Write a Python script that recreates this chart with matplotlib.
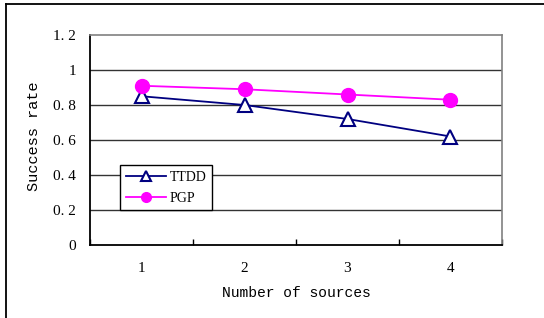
import matplotlib
matplotlib.use("Agg")
import matplotlib.pyplot as plt
from matplotlib.lines import Line2D

categories = ["1", "2", "3", "4"]
ttdd = [0.85, 0.80, 0.72, 0.62]
pgp = [0.91, 0.89, 0.86, 0.83]
yticks = [0, 0.2, 0.4, 0.6, 0.8, 1.0, 1.2]
ytick_labels = ["0", "0. 2", "0. 4", "0. 6", "0. 8", "1", "1. 2"]

W, H = 544, 318
fig = plt.figure(figsize=(W / 100, H / 100), dpi=100)
mono = "Liberation Mono"
serif = "Liberation Serif"
fs = 10.5

# Outer frame (top and left lines only visible)
fig.add_artist(Line2D([6 / W, 6 / W], [0, 1 - 4 / H], transform=fig.transFigure, color="black", lw=1.3))
fig.add_artist(Line2D([6 / W, 1], [1 - 4 / H, 1 - 4 / H], transform=fig.transFigure, color="black", lw=1.3))

left, right, top, bottom = 90, 502, 35, 245
ax = fig.add_axes([left / W, 1 - bottom / H, (right - left) / W, (bottom - top) / H])

x = list(range(len(categories)))
ax.plot(x, ttdd, color="#000080", lw=1.3, marker="^", markersize=10,
        markerfacecolor="white", markeredgecolor="#000080", markeredgewidth=1.5, label="TTDD", zorder=3)
ax.plot(x, pgp, color="#FF00FF", lw=1.3, marker="o", markersize=10,
        markerfacecolor="#FF00FF", markeredgecolor="#FF00FF", label="PGP", zorder=3)

ax.set_xlim(-0.5, len(categories) - 0.5)
ax.set_ylim(0, 1.2)
ax.set_yticks(yticks)
ax.set_yticklabels(ytick_labels, fontfamily=serif, fontsize=11)
ax.set_xticks(x)
ax.set_xticklabels(categories, fontfamily=serif, fontsize=11)
ax.set_xticks([i + 0.5 for i in range(-1, len(categories))], minor=True)
ax.tick_params(axis="x", which="major", length=0, pad=12)
ax.tick_params(axis="x", which="minor", direction="in", length=4, width=1)
ax.tick_params(axis="y", which="major", length=0, pad=10)

for yv in yticks[1:-1]:
    ax.axhline(yv, color="#333333", lw=1.0, zorder=1)

ax.spines["left"].set_color("black")
ax.spines["bottom"].set_color("black")
ax.spines["left"].set_linewidth(1.3)
ax.spines["bottom"].set_linewidth(1.3)
ax.spines["top"].set_color("#808080")
ax.spines["right"].set_color("#808080")
ax.spines["top"].set_linewidth(1.2)
ax.spines["right"].set_linewidth(1.2)

ax.set_ylabel("Success rate", fontfamily=mono, fontsize=11)
ax.yaxis.set_label_coords((41 - left) / (right - left), (bottom - 136) / (bottom - top))
ax.set_xlabel("Number of sources", fontfamily=mono, fontsize=fs, labelpad=8)

leg = ax.legend(loc="upper left", bbox_to_anchor=((120 - left) / (right - left), (bottom - 165) / (bottom - top)),
                prop={"family": serif, "size": 10}, frameon=True, fancybox=False,
                edgecolor="black", framealpha=1, handlelength=2.9, borderpad=0.4,
                labelspacing=0.6, handletextpad=0.3, borderaxespad=0)
leg.get_frame().set_linewidth(1.0)
for h in leg.legend_handles:
    h.set_markersize(7)

fig.savefig("out.png", dpi=100)
